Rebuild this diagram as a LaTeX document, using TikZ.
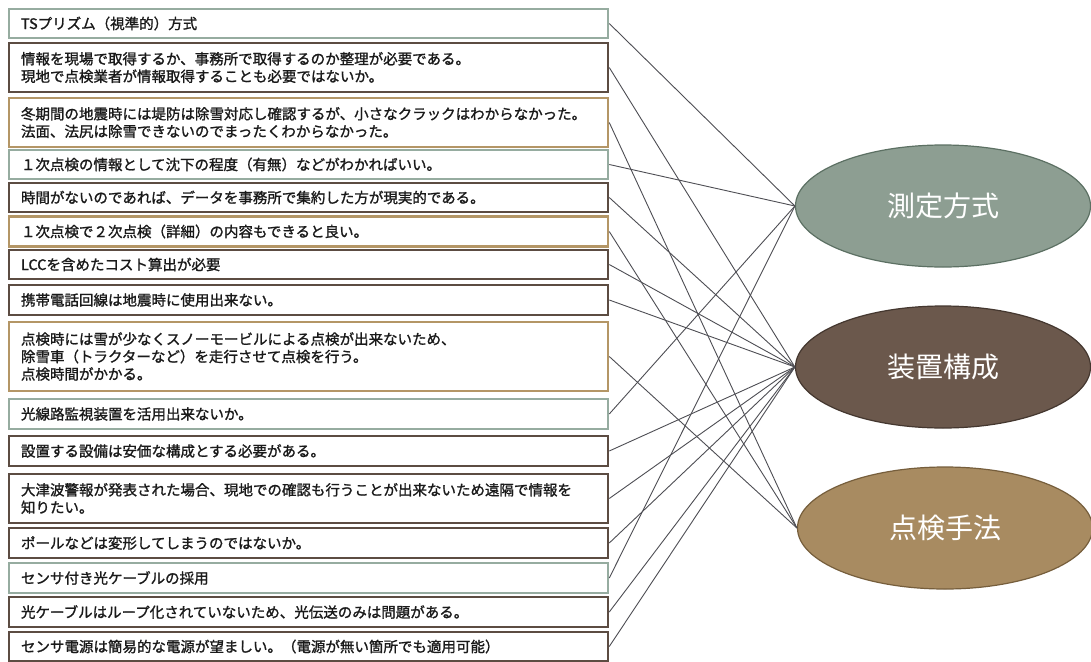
\documentclass[tikz,border=0pt]{standalone}
\usepackage{fontspec}
\setmainfont{Noto Sans CJK JP}
\newfontfamily\jpbold[FakeBold=1.3]{Noto Sans CJK JP}
\usetikzlibrary{shapes.geometric}
\definecolor{grnline}{RGB}{150,172,160}
\definecolor{brnline}{RGB}{92,76,66}
\definecolor{tanline}{RGB}{180,150,102}
\definecolor{grnfill}{RGB}{141,158,146}
\definecolor{grnedge}{RGB}{92,112,99}
\definecolor{brnfill}{RGB}{107,88,76}
\definecolor{brnedge}{RGB}{68,55,47}
\definecolor{tanfill}{RGB}{168,139,97}
\definecolor{tanedge}{RGB}{118,94,60}
\definecolor{conn}{RGB}{78,78,84}
\definecolor{txt}{RGB}{26,26,26}
\tikzset{
  box/.style={draw, line width=2.5pt, fill=white, rectangle, text width=575pt, align=left,
    inner xsep=12pt, inner ysep=2pt, text=txt,
    font=\jpbold\fontsize{14.5}{17.5}\selectfont},
  gbox/.style={box, draw=grnline},
  bbox/.style={box, draw=brnline},
  tbox/.style={box, draw=tanline},
  cat/.style={ellipse, line width=1.2pt, minimum width=295pt, minimum height=122pt,
    text=white, font=\fontsize{28}{32}\selectfont},
  link/.style={draw=conn, line width=0.9pt}
}
\begin{document}
\begin{tikzpicture}[x=1pt,y=-1pt]
\useasboundingbox[fill=white] (0,0) rectangle (1091,661);
% categories
\node[cat, fill=grnfill, draw=grnedge] (e1) at (943,206) {測定方式};
\node[cat, fill=brnfill, draw=brnedge] (e2) at (943,367) {装置構成};
\node[cat, fill=tanfill, draw=tanedge] (e3) at (945,528) {点検手法};
% comments
\node[gbox, minimum height=29pt] (b1) at (308.5,23.5) {TSプリズム（視準的）方式};
\node[bbox, minimum height=49pt] (b2) at (308.5,67.5) {情報を現場で取得するか、事務所で取得するのか整理が必要である。\\現地で点検業者が情報取得することも必要ではないか。};
\node[tbox, minimum height=49pt] (b3) at (308.5,122.5) {冬期間の地震時には堤防は除雪対応し確認するが、小さなクラックはわからなかった。\\法面、法尻は除雪できないのでまったくわからなかった。};
\node[gbox, minimum height=29pt] (b4) at (308.5,164.5) {１次点検の情報として沈下の程度（有無）などがわかればいい。};
\node[bbox, minimum height=29pt] (b5) at (308.5,197.5) {時間がないのであれば、データを事務所で集約した方が現実的である。};
\node[tbox, minimum height=30pt] (b6) at (308.5,231.5) {１次点検で２次点検（詳細）の内容もできると良い。};
\node[bbox, minimum height=29pt] (b7) at (308.5,264.5) {LCCを含めたコスト算出が必要};
\node[bbox, minimum height=30pt] (b8) at (308.5,300) {携帯電話回線は地震時に使用出来ない。};
\node[tbox, minimum height=69pt] (b9) at (308.5,356.5) {点検時には雪が少なくスノーモービルによる点検が出来ないため、\\除雪車（トラクターなど）を走行させて点検を行う。\\点検時間がかかる。};
\node[gbox, minimum height=30pt] (b10) at (308.5,414) {光線路監視装置を活用出来ないか。};
\node[bbox, minimum height=30pt] (b11) at (308.5,451) {設置する設備は安価な構成とする必要がある。};
\node[bbox, minimum height=49pt] (b12) at (308.5,498.5) {大津波警報が発表された場合、現地での確認も行うことが出来ないため遠隔で情報を\\知りたい。};
\node[bbox, minimum height=30pt] (b13) at (308.5,543) {ポールなどは変形してしまうのではないか。};
\node[gbox, minimum height=30pt] (b14) at (308.5,578) {センサ付き光ケーブルの採用};
\node[bbox, minimum height=30pt] (b15) at (308.5,612) {光ケーブルはループ化されていないため、光伝送のみは問題がある。};
\node[bbox, minimum height=29pt] (b16) at (308.5,646.5) {センサ電源は簡易的な電源が望ましい。（電源が無い箇所でも適用可能）};
% connectors
\foreach \b in {b1,b4,b10,b14} \draw[link] (\b.east) -- (e1.west);
\foreach \b in {b2,b5,b7,b8,b11,b12,b13,b15,b16} \draw[link] (\b.east) -- (e2.west);
\foreach \b in {b3,b6,b9} \draw[link] (\b.east) -- (e3.west);
\end{tikzpicture}
\end{document}
